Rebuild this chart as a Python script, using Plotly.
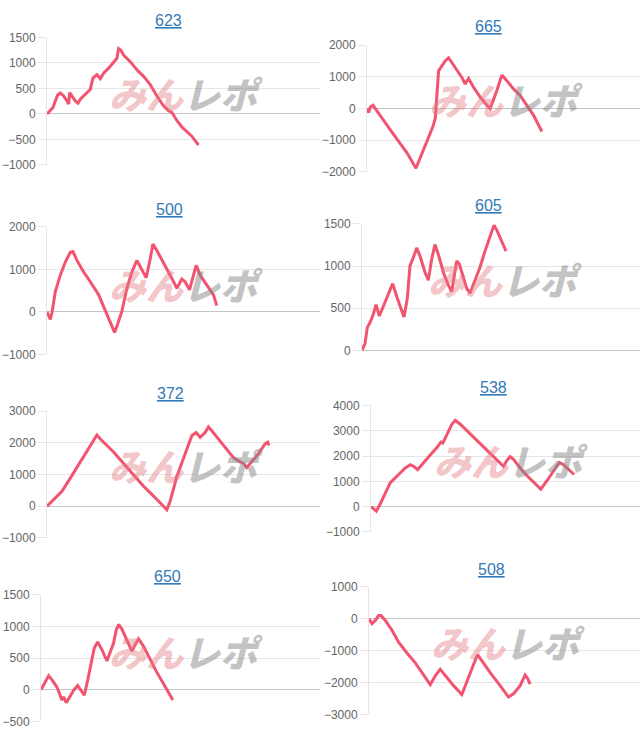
import plotly.graph_objects as go

# ---------------- data (games played, medal balance) ----------------
titles = ["623", "665", "500", "605", "372", "538", "650", "508"]

games_623 = [0, 80, 180, 250, 320, 400, 500, 600, 650, 680, 750, 850, 930, 1000, 1150, 1300, 1380, 1450, 1500, 1600,
             1700, 1850, 2000, 2100, 2150, 2220, 2300, 2500, 2700, 2900, 3100, 3300, 3500, 3650, 3750, 3900, 4050, 4200, 4350, 4550]
diff_623 = [0, 64, 128, 256, 372, 410, 352, 256, 192, 417, 352, 256, 212, 288, 385, 480, 705, 737, 770, 692,
            800, 897, 1025, 1090, 1282, 1250, 1154, 1025, 865, 737, 577, 352, 160, 64, 32, -128, -256, -352, -436, -609]

games_665 = [0, 50, 100, 180, 250, 450, 700, 950, 1200, 1470, 1600, 1800, 1980, 2050, 2100, 2150, 2250, 2350, 2450, 2550,
             2700, 2850, 2950, 3050, 3200, 3400, 3600, 3700, 3900, 4050, 4200, 4400, 4600, 4800, 5000, 5250]
diff_665 = [0, -124, 52, 104, 0, -311, -673, -1036, -1399, -1886, -1554, -1036, -570, -311, 311, 1191, 1347, 1502, 1606, 1450,
            1191, 984, 777, 953, 673, 363, 104, 0, 570, 1057, 881, 622, 414, 104, -207, -725]

games_500 = [0, 50, 100, 150, 250, 400, 550, 700, 780, 900, 1100, 1300, 1550, 1800, 1950, 2030, 2120, 2250, 2400, 2550,
             2700, 2800, 2980, 3100, 3180, 3300, 3500, 3700, 3900, 4050, 4150, 4280, 4400, 4480, 4600, 4800, 5000, 5100]
diff_500 = [0, -100, -177, -23, 477, 862, 1170, 1401, 1417, 1209, 939, 708, 400, -62, -331, -485, -293, 15, 554, 939,
            1209, 1055, 801, 1247, 1594, 1440, 1132, 862, 554, 770, 708, 516, 862, 1093, 862, 631, 400, 146]

games_605 = [0, 90, 160, 240, 340, 420, 520, 640, 790, 920, 1060, 1190, 1260, 1360, 1440, 1540, 1640, 1740, 1890, 1990,
             2090, 2190, 2290, 2440, 2590, 2690, 2840, 2920, 3040, 3140, 3240, 3390, 3540, 3690, 3840, 3960, 4040, 4190, 4320]
diff_605 = [0, 81, 273, 331, 427, 542, 408, 523, 658, 792, 619, 485, 396, 619, 1004, 1100, 1215, 1119, 927, 831,
            1081, 1254, 1138, 927, 773, 696, 1061, 1023, 869, 735, 677, 831, 985, 1177, 1350, 1485, 1427, 1292, 1177]

games_372 = [0, 200, 450, 700, 950, 1200, 1400, 1500, 1600, 1700, 1780, 2000, 2300, 2600, 2900, 3200, 3500, 3600, 3700, 3900,
             4150, 4350, 4480, 4600, 4750, 4850, 4950, 5150, 5400, 5600, 5800, 5900, 6000, 6150, 6350, 6550, 6630, 6670]
diff_372 = [0, 216, 474, 887, 1299, 1711, 2072, 2248, 2124, 2021, 1969, 1711, 1351, 990, 629, 320, 10, -113, 165, 938,
            1660, 2227, 2330, 2175, 2330, 2505, 2382, 2124, 1815, 1536, 1402, 1351, 1217, 1402, 1660, 1969, 2021, 1918]

games_538 = [0, 80, 160, 280, 430, 580, 730, 880, 1030, 1180, 1280, 1400, 1580, 1780, 1980, 2100, 2160, 2280, 2430, 2530,
             2680, 2880, 3130, 3380, 3630, 3880, 3980, 4080, 4180, 4280, 4480, 4680, 4930, 5100, 5280, 5480, 5660, 5780, 5930, 6100]
diff_538 = [0, -103, -179, 115, 500, 949, 1141, 1333, 1526, 1654, 1590, 1462, 1718, 2038, 2333, 2551, 2513, 2872, 3256, 3410,
            3256, 3000, 2679, 2359, 2038, 1718, 1590, 1820, 1974, 1872, 1526, 1231, 885, 692, 1013, 1397, 1744, 1654, 1462, 1269]

games_650 = [0, 130, 230, 330, 480, 630, 680, 760, 880, 980, 1100, 1180, 1300, 1400, 1500, 1600, 1700, 1830, 1980, 2100,
             2180, 2260, 2330, 2430, 2580, 2730, 2830, 2930, 3080, 3280, 3480, 3680, 3830, 3960]
diff_650 = [0, 118, 221, 154, 41, -165, -113, -206, -88, -10, 67, 0, -88, 144, 402, 659, 752, 633, 453, 608,
            736, 942, 1030, 958, 788, 608, 711, 803, 685, 479, 273, 93, -52, -165]

games_508 = [0, 90, 190, 290, 360, 490, 690, 890, 1140, 1390, 1640, 1840, 1990, 2140, 2340, 2540, 2790, 2940, 3140, 3260,
             3390, 3640, 3940, 4190, 4340, 4540, 4690, 4760, 4840]
diff_508 = [0, -153, -51, 102, 102, -51, -358, -737, -1074, -1381, -1760, -2066, -1790, -1586, -1842, -2097, -2373, -1944, -1432, -1125,
            -1330, -1688, -2097, -2455, -2353, -2097, -1760, -1862, -2046]

games = [games_623, games_665, games_500, games_605, games_372, games_538, games_650, games_508]
diffs = [diff_623, diff_665, diff_500, diff_605, diff_372, diff_538, diff_650, diff_508]

x_max = [8200, 8200, 8200, 8340, 8200, 8080, 8380, 8140]
y_ranges = [(-1000, 1500), (-2000, 2000), (-1000, 2000), (0, 1500),
            (-1000, 3000), (-1000, 4000), (-500, 1500), (-3000, 1000)]
y_steps = [500, 1000, 1000, 500, 1000, 1000, 500, 1000]

# ---------------- layout geometry (pixels) ----------------
W, H = 640, 745
plot_boxes = [  # left, right, top, bottom
    (47, 320, 31, 161), (367, 640, 39, 168),
    (47, 320, 224, 354), (362, 640, 221, 350),
    (47, 320, 412, 541), (371, 640, 406, 535),
    (41, 320, 599, 728), (369, 640, 591, 721),
]
title_pos = [(168, 14), (488, 20), (169, 206), (488, 202),
             (170, 394), (493, 388), (167, 580), (491, 573)]
mark_pos = [(185, 88), (505, 94), (185, 282), (504, 277),
            (185, 467), (510, 462), (185, 656), (507, 647)]

LINE = "rgb(242,84,112)"
GRID = "#e6e6e6"
ZERO = "#c4c4c4"
TICKFONT = dict(family="Liberation Sans, Arial, sans-serif", size=12, color="#666666")

fig = go.Figure()
annotations = []
layout_axes = {}

for i in range(8):
    n = "" if i == 0 else str(i + 1)
    l, r, t, b = plot_boxes[i]
    fig.add_trace(go.Scatter(
        x=games[i], y=diffs[i], mode="lines",
        line=dict(color=LINE, width=3),
        xaxis="x" + n, yaxis="y" + n, showlegend=False, hoverinfo="skip"))
    layout_axes["xaxis" + n] = dict(
        domain=[l / W, r / W], range=[0, x_max[i]], anchor="y" + n,
        showgrid=False, zeroline=False, showline=False, showticklabels=False, ticks="",
        fixedrange=True)
    layout_axes["yaxis" + n] = dict(
        domain=[1 - b / H, 1 - t / H], range=list(y_ranges[i]), anchor="x" + n,
        dtick=y_steps[i], tick0=0, showgrid=True, gridcolor=GRID, gridwidth=1,
        zeroline=True, zerolinecolor=ZERO, zerolinewidth=1,
        showline=True, linecolor=GRID, linewidth=1,
        ticks="outside", ticklen=8, tickcolor=GRID, tickwidth=1,
        tickfont=TICKFONT, fixedrange=True)
    tx, ty = title_pos[i]
    annotations.append(dict(
        text="<u>" + titles[i] + "</u>", x=tx / W, y=1 - ty / H, xref="paper", yref="paper",
        xanchor="center", yanchor="middle", showarrow=False,
        font=dict(family="Liberation Sans, Arial, sans-serif", size=16, color="#337ab7")))
    mx, my = mark_pos[i]
    annotations.append(dict(
        text="みん", x=(mx - 38) / W, y=1 - my / H, xref="paper", yref="paper",
        xanchor="center", yanchor="middle", showarrow=False,
        font=dict(family="Noto Sans CJK JP", size=37, color="rgba(228,125,132,0.45)",
                  weight=900, style="italic")))
    annotations.append(dict(
        text="レポ", x=(mx + 38) / W, y=1 - my / H, xref="paper", yref="paper",
        xanchor="center", yanchor="middle", showarrow=False,
        font=dict(family="Noto Sans CJK JP", size=37, color="rgba(135,135,135,0.5)",
                  weight=900, style="italic")))

fig.update_layout(
    width=W, height=H, margin=dict(l=0, r=0, t=0, b=0),
    paper_bgcolor="white", plot_bgcolor="white",
    annotations=annotations, showlegend=False,
    **layout_axes)

fig.write_html("out.html", config={"displayModeBar": False})
